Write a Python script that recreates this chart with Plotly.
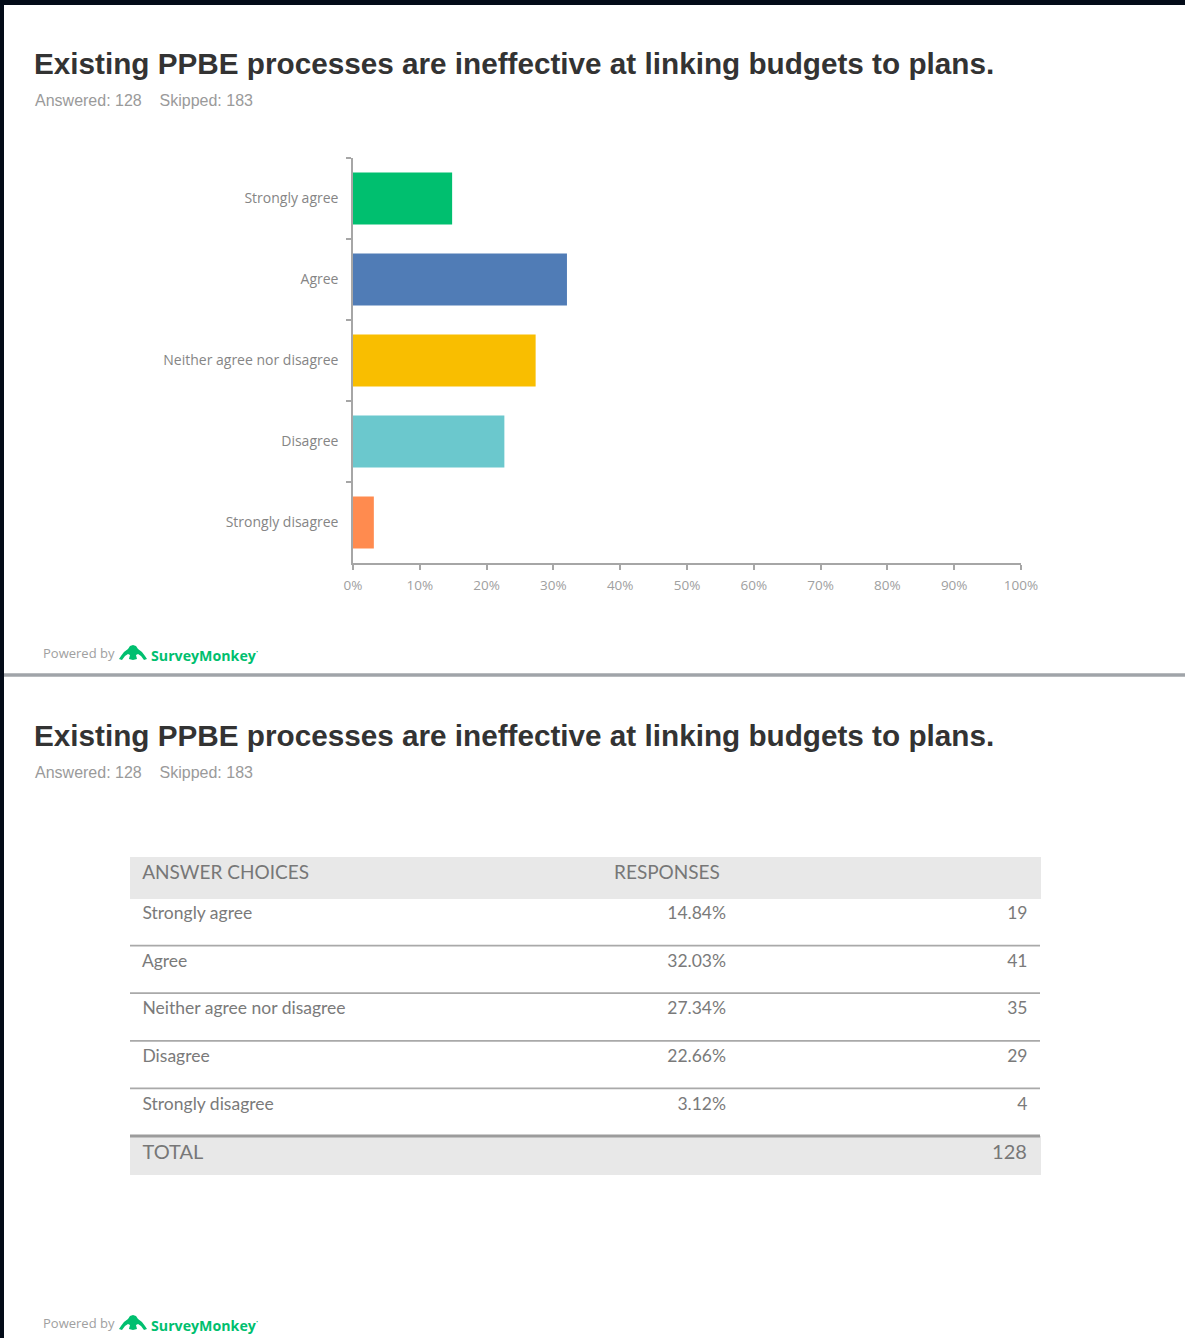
import plotly.graph_objects as go

W, H = 1185, 1338

# Survey data
title_text = "Existing PPBE processes are ineffective at linking budgets to plans."
answered = 128
skipped = 183
choices = ["Strongly agree", "Agree", "Neither agree nor disagree", "Disagree", "Strongly disagree"]
percents = [14.84, 32.03, 27.34, 22.66, 3.12]
counts = [19, 41, 35, 29, 4]
total = 128
bar_colors = ["#00BF6F", "#507CB6", "#F9BE00", "#6BC8CD", "#FF8B4F"]
x_ticks = list(range(0, 101, 10))


def px(x):
    return x / W


def py(y):
    return 1 - y / H


fig = go.Figure()

# Horizontal bar chart
fig.add_trace(go.Bar(
    x=percents,
    y=choices,
    orientation="h",
    marker=dict(color=bar_colors, line=dict(width=0)),
    hoverinfo="skip",
    showlegend=False,
))

# Response table
table_font = "Lato, 'Open Sans', sans-serif"
header_h = 41
row_h = 47.6
tbl_top = 857
fig.add_trace(go.Table(
    domain=dict(x=[px(130), px(1040)], y=[py(1142), py(tbl_top)]),
    columnwidth=[476, 128, 306],
    header=dict(
        values=["\u00a0ANSWER CHOICES", "RESPONSES", ""],
        align=["left", "left", "right"],
        height=header_h,
        fill=dict(color="#E8E8E8"),
        line=dict(color="#E8E8E8", width=1),
        font=dict(family=table_font, size=19, color="#777777"),
    ),
    cells=dict(
        values=[["\u00a0" + c for c in choices],
                [f"{p:.2f}%" for p in percents],
                [f"{n}\u00a0" for n in counts]],
        align=["left", "right", "right"],
        height=row_h,
        fill=dict(color="white"),
        line=dict(color="white", width=1),
        font=dict(family=table_font, size=17.5, color="#7A7A7A"),
    ),
))

# Total row
fig.add_trace(go.Table(
    domain=dict(x=[px(130), px(1040)], y=[py(1180), py(1136)]),
    columnwidth=[476, 128, 306],
    header=dict(
        values=["\u00a0TOTAL", "", f"{total}\u00a0"],
        align=["left", "left", "right"],
        height=38,
        fill=dict(color="#E8E8E8"),
        line=dict(color="#E8E8E8", width=1),
        font=dict(family=table_font, size=20, color="#777777"),
    ),
    cells=dict(values=[[], [], []], height=1,
               fill=dict(color="white"), line=dict(color="white", width=0)),
))

shapes = []
# dark frame at top and left
shapes.append(dict(type="rect", xref="paper", yref="paper", x0=0, x1=1, y0=py(5), y1=1,
                   fillcolor="#030B18", line=dict(width=0), layer="above"))
shapes.append(dict(type="rect", xref="paper", yref="paper", x0=0, x1=px(4), y0=0, y1=1,
                   fillcolor="#030B18", line=dict(width=0), layer="above"))
# divider between the two panels
shapes.append(dict(type="line", xref="paper", yref="paper", x0=px(4), x1=1, y0=py(675), y1=py(675),
                   line=dict(color="#A0A4A9", width=3.5)))
# table row separators
row_top = tbl_top + header_h
for k in range(1, len(choices)):
    yy = row_top + row_h * k
    shapes.append(dict(type="line", xref="paper", yref="paper", x0=px(130), x1=px(1040),
                       y0=py(yy), y1=py(yy), line=dict(color="#A9A9A9", width=1.8)))
yy = row_top + row_h * len(choices)
shapes.append(dict(type="line", xref="paper", yref="paper", x0=px(130), x1=px(1040),
                   y0=py(yy), y1=py(yy), line=dict(color="#9C9C9C", width=3)))


def logo_path(x0, y0):
    # small arch icon of the footer logo, drawn in pixel offsets then mapped to paper
    pts = [
        ("M", 0, 14), ("L", 2, 11), ("L", 5, 7), ("L", 9, 4), ("L", 11, 1), ("L", 14, 0),
        ("L", 17, 1), ("L", 19, 4), ("L", 23, 7), ("L", 26, 11), ("L", 28, 14),
        ("L", 25, 15), ("L", 22, 11), ("L", 19, 9), ("L", 17, 10), ("L", 18, 14),
        ("L", 14, 15), ("L", 10, 14), ("L", 11, 10), ("L", 9, 9), ("L", 6, 11), ("L", 3, 15),
    ]
    s = ""
    for cmd, dx, dy in pts:
        s += f"{cmd}{px(x0 + dx):.5f},{py(y0 + dy):.5f} "
    return s + "Z"


annotations = []
for top in (0, 672):
    annotations.append(dict(
        text=f"<b>{title_text}</b>", xref="paper", yref="paper", x=px(32), y=py(63 + top),
        xanchor="left", yanchor="middle", showarrow=False,
        font=dict(family="'Liberation Sans', Arial, sans-serif", size=29.7, color="#333333"),
    ))
    annotations.append(dict(
        text=f"Answered: {answered}\u00a0\u00a0\u00a0\u00a0Skipped: {skipped}",
        xref="paper", yref="paper", x=px(33), y=py(100 + top),
        xanchor="left", yanchor="middle", showarrow=False,
        font=dict(family="'Liberation Sans', Arial, sans-serif", size=16, color="#9A9A9A"),
    ))

for fy in (653, 1323):
    annotations.append(dict(
        text="Powered by", xref="paper", yref="paper", x=px(41), y=py(fy),
        xanchor="left", yanchor="middle", showarrow=False,
        font=dict(family="'Open Sans', sans-serif", size=13, color="#A0A0A0"),
    ))
    annotations.append(dict(
        text="<b>SurveyMonkey</b><sup>·</sup>", xref="paper", yref="paper", x=px(149), y=py(fy + 1),
        xanchor="left", yanchor="middle", showarrow=False,
        font=dict(family="'Open Sans', sans-serif", size=14.2, color="#00BF6F"),
    ))
    shapes.append(dict(type="path", xref="paper", yref="paper", path=logo_path(119, fy - 8),
                       fillcolor="#00BF6F", line=dict(width=0)))

fig.update_layout(
    width=W, height=H, autosize=False,
    margin=dict(l=0, r=0, t=0, b=0, pad=0),
    paper_bgcolor="white", plot_bgcolor="white",
    bargap=0.36,
    xaxis=dict(
        domain=[px(353), px(1021)], range=[0, 100], tickvals=x_ticks,
        ticktext=[f"{v}%" for v in x_ticks], automargin=False,
        showgrid=False, zeroline=False, showline=True, linecolor="#A6A6A6", linewidth=1.5,
        ticks="outside", ticklen=5, tickcolor="#A6A6A6", tickwidth=1.5,
        ticklabelstandoff=4,
        tickfont=dict(family="'Open Sans', sans-serif", size=13.5, color="#A0A0A0"),
        fixedrange=True,
    ),
    yaxis=dict(
        domain=[py(563), py(158)], type="category", categoryorder="array",
        categoryarray=choices, autorange="reversed", automargin=False,
        showgrid=False, zeroline=False, showline=True, linecolor="#A6A6A6", linewidth=1.5,
        ticks="outside", ticklen=5, tickcolor="#A6A6A6", tickwidth=1.5, tickson="boundaries",
        ticklabelstandoff=10,
        tickfont=dict(family="'Open Sans', sans-serif", size=14, color="#858585"),
        fixedrange=True,
    ),
    shapes=shapes,
    annotations=annotations,
)

fig.write_html("out.html", config={"displayModeBar": False})
